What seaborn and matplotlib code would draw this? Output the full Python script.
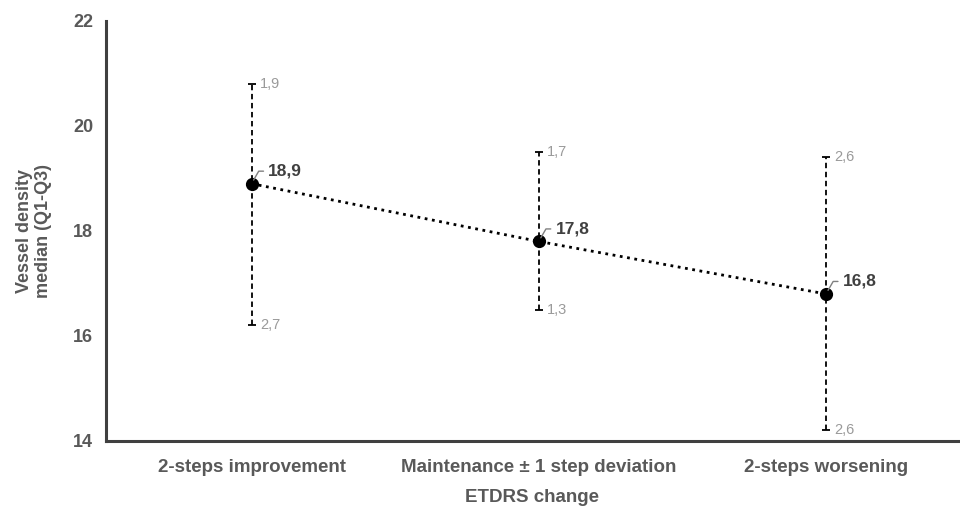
import numpy as np
import pandas as pd
import matplotlib
matplotlib.use("Agg")
import matplotlib.pyplot as plt
import seaborn as sns

categories = ["2-steps improvement", "Maintenance \u00b1 1 step deviation", "2-steps worsening"]
medians = [18.9, 17.8, 16.8]
upper_delta = [1.9, 1.7, 2.6]
lower_delta = [2.7, 1.3, 2.6]
median_labels = ["18,9", "17,8", "16,8"]
upper_labels = ["1,9", "1,7", "2,6"]
lower_labels = ["2,7", "1,3", "2,6"]

df = pd.DataFrame({"group": categories, "vd": medians})

sns.set_style("white")
plt.rcParams["font.family"] = ["Liberation Sans", "DejaVu Sans"]

fig = plt.figure(figsize=(9.6, 5.09), dpi=100)
ax = fig.add_axes([0.110, 0.1336, 0.888, 0.8254])

sns.pointplot(data=df, x="group", y="vd", color="black", linestyles=":",
              markers="o", errorbar=None, ax=ax, markersize=8, linewidth=2)

xpos = np.arange(len(categories))
eb = ax.errorbar(xpos, medians, yerr=[lower_delta, upper_delta], fmt="none",
                 ecolor="black", elinewidth=1.3, capsize=3, capthick=1.3, zorder=1)
eb[2][0].set_linestyle((0, (3, 2)))

for i in range(len(categories)):
    top = medians[i] + upper_delta[i]
    bot = medians[i] - lower_delta[i]
    ax.annotate(upper_labels[i], (xpos[i], top), xytext=(6, 0), textcoords="offset points",
                ha="left", va="center", fontsize=10.5, color="#9a9a9a")
    ax.annotate(lower_labels[i], (xpos[i], bot), xytext=(6, 0), textcoords="offset points",
                ha="left", va="center", fontsize=10.5, color="#9a9a9a")
    ax.annotate(median_labels[i], (xpos[i], medians[i]), xytext=(12, 9),
                textcoords="offset points", ha="left", va="center", fontsize=12.5,
                fontweight="bold", color="#404040",
                arrowprops=dict(arrowstyle="-", color="#808080", lw=1,
                                shrinkA=1, shrinkB=3,
                                connectionstyle="angle,angleA=0,angleB=60,rad=0"))

ax.set_ylim(14, 22)
ax.set_yticks([14, 16, 18, 20, 22])
ax.set_xlim(-0.508, 2.46)

sns.despine(ax=ax)
for s in ["left", "bottom"]:
    ax.spines[s].set_color("#404040")
    ax.spines[s].set_linewidth(2.2)

ax.tick_params(axis="y", length=3, width=2, color="#404040", labelsize=13,
               labelcolor="#595959", direction="out", pad=6)
ax.tick_params(axis="x", length=0, labelsize=13.5, labelcolor="#595959", pad=13)
for lab in ax.get_yticklabels() + ax.get_xticklabels():
    lab.set_fontweight("bold")

ax.set_xlabel("ETDRS change", fontsize=13.5, fontweight="bold", color="#595959",
              labelpad=9)
ax.set_ylabel("Vessel density\nmedian (Q1-Q3)", fontsize=13, fontweight="bold",
              color="#595959", labelpad=15)

fig.savefig("out.png", dpi=100)
